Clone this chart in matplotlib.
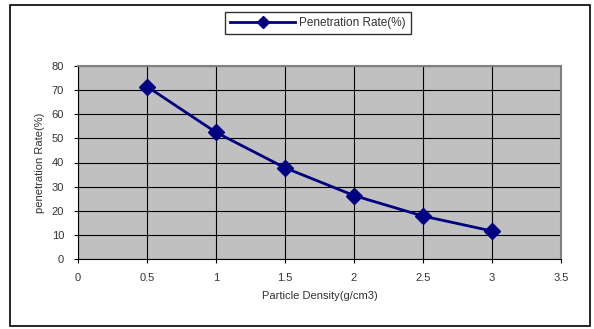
import matplotlib
matplotlib.use("Agg")
import matplotlib.pyplot as plt
from matplotlib.patches import Rectangle

# data
density = [0.5, 1.0, 1.5, 2.0, 2.5, 3.0]
penetration = [71.5, 52.5, 37.8, 26.3, 17.8, 11.6]
x_ticks = [0, 0.5, 1, 1.5, 2, 2.5, 3, 3.5]
x_tick_labels = ["0", "0.5", "1", "1.5", "2", "2.5", "3", "3.5"]
y_ticks = [0, 10, 20, 30, 40, 50, 60, 70, 80]

plt.rcParams['font.family'] = ['Liberation Sans', 'DejaVu Sans']
plt.rcParams['font.size'] = 8

fig = plt.figure(figsize=(5.94, 3.29), dpi=100)
W, H = 594, 329
ax = fig.add_axes([78 / W, 1 - 259 / H, (561 - 78) / W, (259 - 66) / H])

# outer chart border
fig.patches.append(Rectangle((10 / W, 3 / H), 580 / W, 321 / H, transform=fig.transFigure,
                             fill=False, edgecolor='black', linewidth=1.2))

ax.set_facecolor('#c0c0c0')
ax.plot(density, penetration, color='#000080', linewidth=2, marker='D',
        markersize=8, label='Penetration Rate(%)')

ax.set_xlim(0, 3.5)
ax.set_ylim(0, 80)
ax.set_xticks(x_ticks)
ax.set_xticklabels(x_tick_labels)
ax.set_yticks(y_ticks)
ax.grid(True, color='black', linewidth=0.8)
ax.set_axisbelow(True)
for side in ['top', 'right']:
    ax.spines[side].set_color('#808080')
    ax.spines[side].set_linewidth(1.5)
for side in ['left', 'bottom']:
    ax.spines[side].set_color('black')
ax.tick_params(length=3, color='black', labelcolor='#333333', pad=7)

ax.set_xlabel('Particle Density(g/cm3)', color='#333333', labelpad=6)
ax.set_ylabel('penetration Rate(%)', color='#333333', labelpad=5)

leg = fig.legend(loc='center', bbox_to_anchor=(318 / W, 1 - 23 / H), frameon=True,
                 fancybox=False, edgecolor='black', handlelength=5.5, borderpad=0.45,
                 handletextpad=0.3, markerscale=0.75, fontsize=8.5)
leg.get_frame().set_linewidth(1.0)
for t in leg.get_texts():
    t.set_color('#333333')

fig.savefig('out.png', dpi=100)
